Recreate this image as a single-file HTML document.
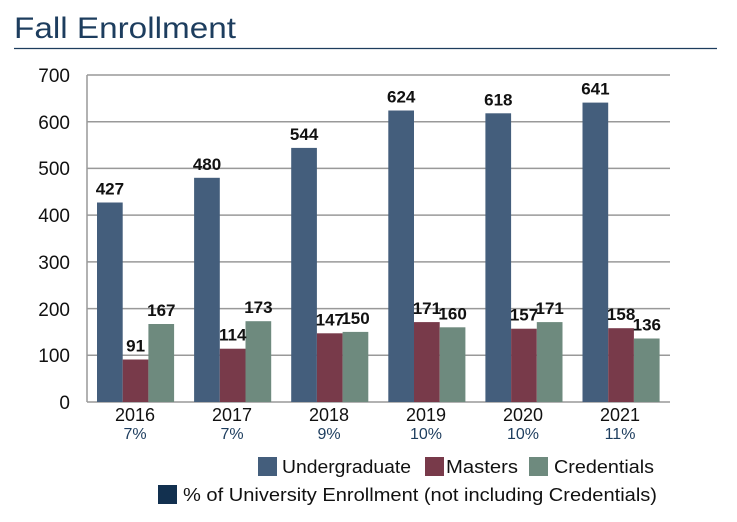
<!DOCTYPE html>
<html><head><meta charset="utf-8"><style>
body{margin:0;background:#fff;width:737px;height:517px;overflow:hidden}
text{font-family:"Liberation Sans",sans-serif}
</style></head><body>
<svg width="737" height="517" xmlns="http://www.w3.org/2000/svg">
<text x="14" y="38" font-size="30" fill="#1d3d5e" textLength="222" lengthAdjust="spacingAndGlyphs">Fall Enrollment</text>
<line x1="14" y1="48.5" x2="717" y2="48.5" stroke="#1d3d5e" stroke-width="1.2"/>
<g stroke="#999" stroke-width="1.5">
<line x1="87" y1="75" x2="670" y2="75"/>
<line x1="87" y1="121.7" x2="670" y2="121.7"/>
<line x1="87" y1="168.4" x2="670" y2="168.4"/>
<line x1="87" y1="215.1" x2="670" y2="215.1"/>
<line x1="87" y1="261.9" x2="670" y2="261.9"/>
<line x1="87" y1="308.6" x2="670" y2="308.6"/>
<line x1="87" y1="355.3" x2="670" y2="355.3"/>
<line x1="87" y1="402" x2="670" y2="402"/>
<line x1="87" y1="75" x2="87" y2="402"/>
</g>
<g font-size="19" fill="#111" text-anchor="end">
<text x="70" y="82">700</text><text x="70" y="129">600</text><text x="70" y="175">500</text>
<text x="70" y="222">400</text><text x="70" y="269">300</text><text x="70" y="316">200</text>
<text x="70" y="362">100</text><text x="70" y="409">0</text>
</g>
<g>
<rect x="97" y="202.5" width="25.7" height="199.5" fill="#445e7c"/>
<rect x="122.7" y="359.5" width="25.7" height="42.5" fill="#783a4a"/>
<rect x="148.4" y="324" width="25.7" height="78" fill="#6e8a7e"/>
<rect x="194.1" y="177.8" width="25.7" height="224.2" fill="#445e7c"/>
<rect x="219.8" y="348.7" width="25.7" height="53.3" fill="#783a4a"/>
<rect x="245.5" y="321.2" width="25.7" height="80.8" fill="#6e8a7e"/>
<rect x="291.2" y="147.9" width="25.7" height="254.1" fill="#445e7c"/>
<rect x="316.9" y="333.3" width="25.7" height="68.7" fill="#783a4a"/>
<rect x="342.6" y="331.9" width="25.7" height="70.1" fill="#6e8a7e"/>
<rect x="388.3" y="110.5" width="25.7" height="291.5" fill="#445e7c"/>
<rect x="414" y="322.1" width="25.7" height="79.9" fill="#783a4a"/>
<rect x="439.7" y="327.3" width="25.7" height="74.7" fill="#6e8a7e"/>
<rect x="485.4" y="113.3" width="25.7" height="288.7" fill="#445e7c"/>
<rect x="511.1" y="328.7" width="25.7" height="73.3" fill="#783a4a"/>
<rect x="536.8" y="322.1" width="25.7" height="79.9" fill="#6e8a7e"/>
<rect x="582.5" y="102.6" width="25.7" height="299.4" fill="#445e7c"/>
<rect x="608.2" y="328.2" width="25.7" height="73.8" fill="#783a4a"/>
<rect x="633.9" y="338.5" width="25.7" height="63.5" fill="#6e8a7e"/>
</g>
<g font-size="17" font-weight="bold" fill="#111" text-anchor="middle">
<text x="109.9" y="194.5">427</text><text x="135.6" y="351.5">91</text><text x="161.3" y="316">167</text>
<text x="207" y="169.8">480</text><text x="232.7" y="340.7">114</text><text x="258.4" y="313.2">173</text>
<text x="304.1" y="139.9">544</text><text x="329.8" y="325.3">147</text><text x="355.5" y="323.9">150</text>
<text x="401.2" y="102.5">624</text><text x="426.9" y="314.1">171</text><text x="452.6" y="319.3">160</text>
<text x="498.3" y="105.3">618</text><text x="524" y="320.7">157</text><text x="549.7" y="314.1">171</text>
<text x="595.4" y="94.6">641</text><text x="621.1" y="320.2">158</text><text x="646.8" y="330.5">136</text>
</g>
<g font-size="18" fill="#111" text-anchor="middle">
<text x="135" y="421">2016</text><text x="232" y="421">2017</text><text x="329" y="421">2018</text>
<text x="426" y="421">2019</text><text x="523" y="421">2020</text><text x="620" y="421">2021</text>
</g>
<g font-size="16" fill="#1d3d5e" text-anchor="middle">
<text x="135" y="439">7%</text><text x="232" y="439">7%</text><text x="329" y="439">9%</text>
<text x="426" y="439">10%</text><text x="523" y="439">10%</text><text x="620" y="439">11%</text>
</g>
<g font-size="18" fill="#111">
<rect x="258" y="457" width="19" height="19" fill="#445e7c"/><text x="282" y="473" textLength="129" lengthAdjust="spacingAndGlyphs">Undergraduate</text>
<rect x="425" y="457" width="19" height="19" fill="#783a4a"/><text x="446" y="473" textLength="72" lengthAdjust="spacingAndGlyphs">Masters</text>
<rect x="529" y="457" width="19" height="19" fill="#6e8a7e"/><text x="554" y="473" textLength="100" lengthAdjust="spacingAndGlyphs">Credentials</text>
<rect x="158" y="485" width="19" height="19" fill="#12304f"/><text x="183" y="501" textLength="474" lengthAdjust="spacingAndGlyphs">% of University Enrollment (not including Credentials)</text>
</g>
</svg>
</body></html>
